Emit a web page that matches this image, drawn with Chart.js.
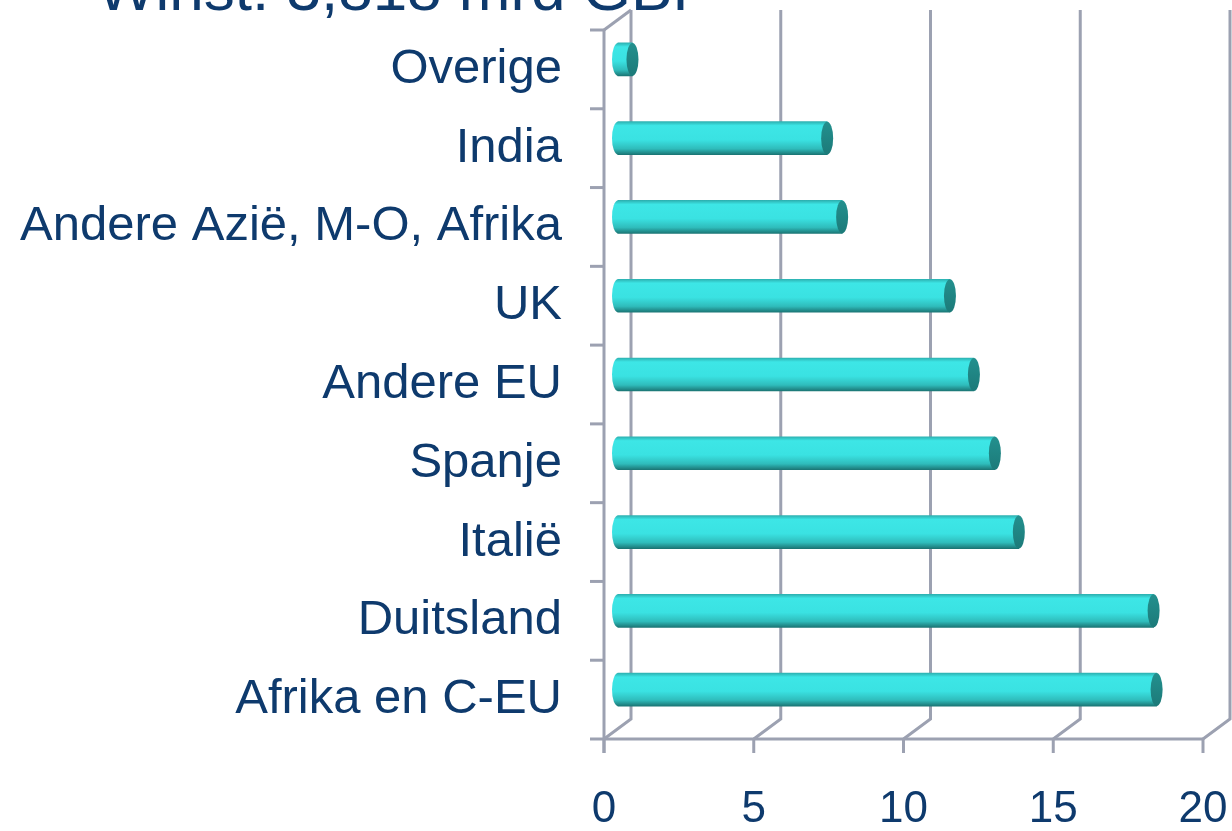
<!DOCTYPE html>
<html>
<head>
<meta charset="UTF-8">
<title>Winst per regio</title>
<script src="https://cdn.jsdelivr.net/npm/chart.js"></script>
<style>
  html, body { margin: 0; padding: 0; background: #fff; overflow: hidden; }
  .wrap { position: relative; width: 1232px; height: 831px; }
  .title {
    position: absolute; left: 97px; top: -42px;
    font-family: "Liberation Sans", Arial, sans-serif;
    font-size: 62px; line-height: 62px; color: #0e3a6d; white-space: nowrap;
  }
  canvas { position: absolute; left: 0; top: 0; }
</style>
</head>
<body>
<div class="wrap">
  <div class="title">Winst: 3,818 mrd GBP</div>
  <canvas id="chart" width="1232" height="831"></canvas>
</div>
<script>
// data (top to bottom)
const categories = ['Overige', 'India', 'Andere Azië, M-O, Afrika', 'UK', 'Andere EU', 'Spanje', 'Italië', 'Duitsland', 'Afrika en C-EU'];
const shares = [0.5, 7.0, 7.5, 11.1, 11.9, 12.6, 13.4, 17.9, 18.0];
const xTicks = [0, 5, 10, 15, 20];

const navy = '#0e3a6d';
const axisGrey = '#9ca1b1';
const depthX = 27, depthY = -20;   // 3d wall offset
const barH = 33;

function barGradient(ctx, cy) {
  if (!isFinite(cy)) return '#3ae2e2';
  const g = ctx.createLinearGradient(0, cy - barH / 2, 0, cy + barH / 2);
  g.addColorStop(0, '#2db2b2');
  g.addColorStop(0.12, '#3de6e6');
  g.addColorStop(0.55, '#3ae2e2');
  g.addColorStop(0.82, '#2fbcbb');
  g.addColorStop(1, '#1b7675');
  return g;
}

const wallPlugin = {
  id: 'wall3d',
  beforeDatasetsDraw(chart) {
    const { ctx, chartArea: a, scales: { x } } = chart;
    ctx.save();
    ctx.strokeStyle = axisGrey;
    ctx.lineWidth = 3;
    ctx.lineCap = 'butt';
    // back wall gridlines + floor diagonals
    xTicks.forEach(v => {
      const px = x.getPixelForValue(v);
      ctx.beginPath();
      ctx.moveTo(px + depthX, a.top + depthY);
      ctx.lineTo(px + depthX, a.bottom + depthY);
      ctx.lineTo(px, a.bottom);
      ctx.stroke();
      ctx.beginPath();
      ctx.moveTo(px, a.bottom);
      ctx.lineTo(px, a.bottom + 14);
      ctx.stroke();
    });
    // left wall top edge
    ctx.beginPath();
    ctx.moveTo(a.left, a.top);
    ctx.lineTo(a.left + depthX, a.top + depthY);
    ctx.stroke();
    // left axis
    ctx.beginPath();
    ctx.moveTo(a.left, a.top);
    ctx.lineTo(a.left, a.bottom + 14);
    ctx.stroke();
    // bottom axis
    ctx.beginPath();
    ctx.moveTo(a.left - 14, a.bottom);
    ctx.lineTo(a.right, a.bottom);
    ctx.stroke();
    // category boundary ticks
    const band = (a.bottom - a.top) / categories.length;
    for (let i = 0; i < categories.length; i++) {
      const ty = a.top + i * band;
      ctx.beginPath();
      ctx.moveTo(a.left - 14, ty);
      ctx.lineTo(a.left, ty);
      ctx.stroke();
    }
    ctx.restore();
    // bars sit half way into the depth
    ctx.save();
    ctx.translate(depthX / 2, depthY / 2);
  },
  afterDatasetsDraw(chart) {
    const ctx = chart.ctx;
    const meta = chart.getDatasetMeta(0);
    meta.data.forEach(bar => {
      const h = bar.height;
      // rounded start
      ctx.beginPath();
      ctx.ellipse(bar.base + 0.5, bar.y, 6, h / 2, 0, Math.PI / 2, Math.PI * 1.5);
      ctx.closePath();
      ctx.fillStyle = barGradient(ctx, bar.y);
      ctx.fill();
      // end cap
      const g = ctx.createLinearGradient(0, bar.y - h / 2, 0, bar.y + h / 2);
      g.addColorStop(0, '#23908e');
      g.addColorStop(1, '#1c7a79');
      ctx.beginPath();
      ctx.ellipse(bar.x, bar.y, 6, h / 2, 0, 0, Math.PI * 2);
      ctx.fillStyle = g;
      ctx.fill();
    });
    ctx.restore();
  }
};

new Chart(document.getElementById('chart'), {
  type: 'bar',
  data: {
    labels: categories,
    datasets: [{
      data: shares,
      barThickness: barH,
      borderWidth: 0,
      backgroundColor: c => {
        const ys = c.chart.scales.y;
        if (!ys || c.dataIndex === undefined) return '#3ae2e2';
        return barGradient(c.chart.ctx, ys.getPixelForValue(c.dataIndex));
      }
    }]
  },
  options: {
    indexAxis: 'y',
    responsive: false,
    animation: false,
    events: [],
    layout: { padding: { top: 30, right: 29, left: 0, bottom: 0 } },
    plugins: {
      legend: { display: false },
      tooltip: { enabled: false },
      title: { display: false }
    },
    scales: {
      x: {
        min: 0, max: 20,
        afterBuildTicks: s => { s.ticks = xTicks.map(v => ({ value: v })); },
        grid: { display: false },
        border: { display: false },
        ticks: {
          padding: 36,
          color: navy,
          maxRotation: 0,
          font: { family: '"Liberation Sans", Arial, sans-serif', size: 44 }
        },
        afterFit: s => {
          s.height = 92;
          s.paddingLeft = 0; s.paddingRight = 0;
        }
      },
      y: {
        grid: { display: false },
        border: { display: false },
        ticks: {
          padding: 34,
          color: navy,
          autoSkip: false,
          font: { family: '"Liberation Sans", Arial, sans-serif', size: 49 }
        },
        afterFit: s => {
          s.width = 604;
          s.paddingTop = 0; s.paddingBottom = 0;
        }
      }
    }
  },
  plugins: [wallPlugin]
});
</script>
</body>
</html>
